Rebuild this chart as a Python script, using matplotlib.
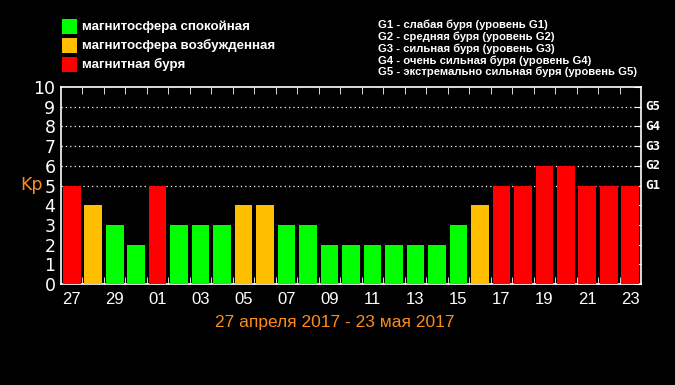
import matplotlib
matplotlib.use("Agg")
import matplotlib.pyplot as plt
from matplotlib.patches import Rectangle

days = ["27", "28", "29", "30", "01", "02", "03", "04", "05", "06", "07", "08", "09",
        "10", "11", "12", "13", "14", "15", "16", "17", "18", "19", "20", "21", "22", "23"]
kp = [5, 4, 3, 2, 5, 3, 3, 3, 4, 4, 3, 3, 2, 2, 2, 2, 2, 2, 3, 4, 5, 5, 6, 6, 5, 5, 5]
g_labels = ["G1", "G2", "G3", "G4", "G5"]
g_levels = [5, 6, 7, 8, 9]
legend_left = ["магнитосфера спокойная", "магнитосфера возбужденная", "магнитная буря"]
legend_right = ["G1 - слабая буря (уровень G1)",
                "G2 - средняя буря (уровень G2)",
                "G3 - сильная буря (уровень G3)",
                "G4 - очень сильная буря (уровень G4)",
                "G5 - экстремально сильная буря (уровень G5)"]
date_range = "27 апреля 2017 - 23 мая 2017"

GREEN = "#00FF00"
ORANGE = "#FFBF00"
RED = "#FF0000"
KP_COL = "#FF8C1A"

def color_for(v):
    if v >= 5:
        return RED
    if v == 4:
        return ORANGE
    return GREEN

W, H = 675, 385
fig = plt.figure(figsize=(W / 100, H / 100), dpi=100, facecolor="black")
ax = fig.add_axes([61 / W, 1 - 284 / H, (641 - 61) / W, (284 - 87) / H])
ax.set_facecolor("black")

x = list(range(len(days)))
ax.bar(x, kp, width=0.82, color=[color_for(v) for v in kp], zorder=3)
for lv in g_levels:
    ax.axhline(lv, color="white", lw=0.9, ls=(0, (1, 2.5)), zorder=1)

ax.set_xlim(-0.5, len(days) - 0.5)
ax.set_ylim(0, 10)
for s in ax.spines.values():
    s.set_color("white")
    s.set_linewidth(1.2)

ax.set_yticks(range(0, 11))
ax.set_yticklabels([str(i) for i in range(11)], family="DejaVu Sans", fontsize=12.5,
                   color="white")
ax.tick_params(axis="y", which="both", left=False, right=True, direction="in",
               length=5, color="white", pad=4)
ax.set_xticks(x[::2])
ax.set_xticklabels(days[::2], family=["Liberation Sans Narrow", "Liberation Sans"],
                   fontsize=12, color="white")
ax.tick_params(axis="x", which="major", length=0, pad=6)
ax.set_xticks([i + 0.5 for i in x[:-1]], minor=True)
ax.tick_params(axis="x", which="minor", top=True, bottom=True, direction="in",
               length=5, color="white")

for g, lv in zip(g_labels, g_levels):
    ax.text(1.008, lv, g, transform=ax.get_yaxis_transform(), color="white",
            fontsize=9, fontweight="bold", va="center", ha="left",
            family="DejaVu Sans Mono")

fig.text(20 / W, 1 - 185 / H, "Kp", color=KP_COL, fontsize=12.5, ha="left",
         va="center", family="DejaVu Sans")
fig.text(335 / W, 1 - 323 / H, date_range, color=KP_COL, fontsize=12.5, ha="center",
         va="center", family=["Liberation Sans Narrow", "Liberation Sans"])

for i, (lab, col) in enumerate(zip(legend_left, [GREEN, ORANGE, RED])):
    yc = 26.5 + i * 19
    fig.patches.append(Rectangle((62 / W, 1 - (yc + 7.5) / H), 15 / W, 15 / H,
                                 transform=fig.transFigure, facecolor=col,
                                 edgecolor="none"))
    fig.text(82 / W, 1 - yc / H, lab, color="white", fontsize=9.6, fontweight="bold",
             ha="left", va="center", family="Liberation Sans")

for i, lab in enumerate(legend_right):
    yc = 25 + i * 11.8
    fig.text(378 / W, 1 - yc / H, lab, color="white", fontsize=8.1, fontweight="bold",
             ha="left", va="center", family="Liberation Sans")

fig.savefig("out.png", dpi=100, facecolor="black")
